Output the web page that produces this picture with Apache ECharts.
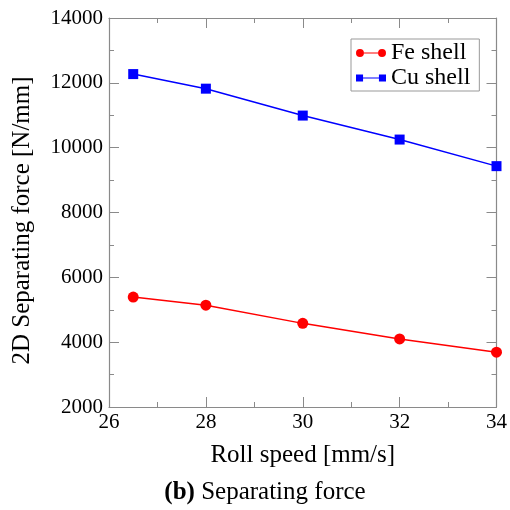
<!DOCTYPE html>
<html><head><meta charset="utf-8">
<script src="https://cdn.jsdelivr.net/npm/echarts@6/dist/echarts.min.js"></script>
<style>html,body{margin:0;padding:0;background:#fff}#c{width:510px;height:510px}</style>
</head><body><div id="c"></div>
<script>
const rollSpeed = [26.5, 28, 30, 32, 34];
const feShell = [5390, 5140, 4580, 4100, 3690];
const cuShell = [12270, 11820, 10990, 10250, 9430];
const seriesNames = ['Fe shell', 'Cu shell'];
const xAxisName = 'Roll speed [mm/s]';
const yAxisName = '2D Separating force [N/mm]';

const font = 'Liberation Serif';
const axisGray = '#8a8a8a';
const chart = echarts.init(document.getElementById('c'));
const pairs = (ys) => rollSpeed.map((x, i) => [x, ys[i]]);
const baseX = {
  type: 'value', min: 26, max: 34, interval: 2,
  axisLine: {show: true, lineStyle: {color: axisGray, width: 1.2}},
  axisTick: {show: true, inside: true, length: 10, lineStyle: {color: axisGray}},
  minorTick: {show: true, splitNumber: 2, length: 5, lineStyle: {color: axisGray}},
  splitLine: {show: false}
};
const baseY = {
  type: 'value', min: 2000, max: 14000, interval: 2000,
  axisLine: {show: true, lineStyle: {color: axisGray, width: 1.2}},
  axisTick: {show: true, inside: true, length: 10, lineStyle: {color: axisGray}},
  minorTick: {show: true, splitNumber: 2, length: 5, lineStyle: {color: axisGray}},
  splitLine: {show: false}
};
const lineBar = 'M9,3.3 L25,3.3 L25,4.7 L9,4.7 Z ';
const circleIcon = 'path://M0,4 A4.5,4.5 0 1,1 9,4 A4.5,4.5 0 1,1 0,4 Z ' + lineBar + 'M25,4 A4.5,4.5 0 1,1 34,4 A4.5,4.5 0 1,1 25,4 Z';
const squareIcon = 'path://M0,0 L8,0 L8,8 L0,8 Z ' + 'M8,3.3 L26,3.3 L26,4.7 L8,4.7 Z ' + 'M26,0 L34,0 L34,8 L26,8 Z';
chart.setOption({
  animation: false,
  backgroundColor: '#fff',
  grid: {left: 109, right: 11, top: 18, bottom: 103},
  title: {
    text: '{b|(b)} Separating force',
    left: 260, top: 475, textAlign: 'center',
    textStyle: {fontFamily: font, fontSize: 25, fontWeight: 'normal', color: '#000',
      rich: {b: {fontFamily: font, fontSize: 25, fontWeight: 'bold', color: '#000'}}}
  },
  legend: {
    data: [{name: seriesNames[0], icon: circleIcon}, {name: seriesNames[1], icon: squareIcon}],
    orient: 'vertical', left: 351, top: 39,
    itemWidth: 30, itemHeight: 9, itemGap: 1,
    padding: [2, 9, 1, 5],
    borderColor: '#999', borderWidth: 1, backgroundColor: '#fff',
    textStyle: {fontFamily: font, fontSize: 24, color: '#000', padding: [0, 0, 0, 0]}
  },
  xAxis: [
    Object.assign({}, baseX, {
      position: 'bottom',
      name: xAxisName, nameLocation: 'middle', nameGap: 36,
      nameTextStyle: {fontFamily: font, fontSize: 25, color: '#000'},
      axisLabel: {fontFamily: font, fontSize: 21, color: '#000', margin: 5}
    }),
    Object.assign({}, baseX, {position: 'top', axisLabel: {show: false}})
  ],
  yAxis: [
    Object.assign({}, baseY, {
      position: 'left',
      name: yAxisName, nameLocation: 'middle', nameGap: 74,
      nameTextStyle: {fontFamily: font, fontSize: 25, color: '#000', padding: [0, 16, 0, 0]},
      axisLabel: {fontFamily: font, fontSize: 21, color: '#000', margin: 6,
        formatter: (v) => String(v)}
    }),
    Object.assign({}, baseY, {position: 'right', axisLabel: {show: false}})
  ],
  series: [
    {name: seriesNames[0], type: 'line', data: pairs(feShell), symbol: 'circle', symbolSize: 11,
      itemStyle: {color: '#ff0000'}, lineStyle: {color: '#ff0000', width: 1.5}, z: 3},
    {name: seriesNames[1], type: 'line', data: pairs(cuShell), symbol: 'rect', symbolSize: 10,
      itemStyle: {color: '#0000ff'}, lineStyle: {color: '#0000ff', width: 1.5}, z: 3}
  ]
});
</script></body></html>
